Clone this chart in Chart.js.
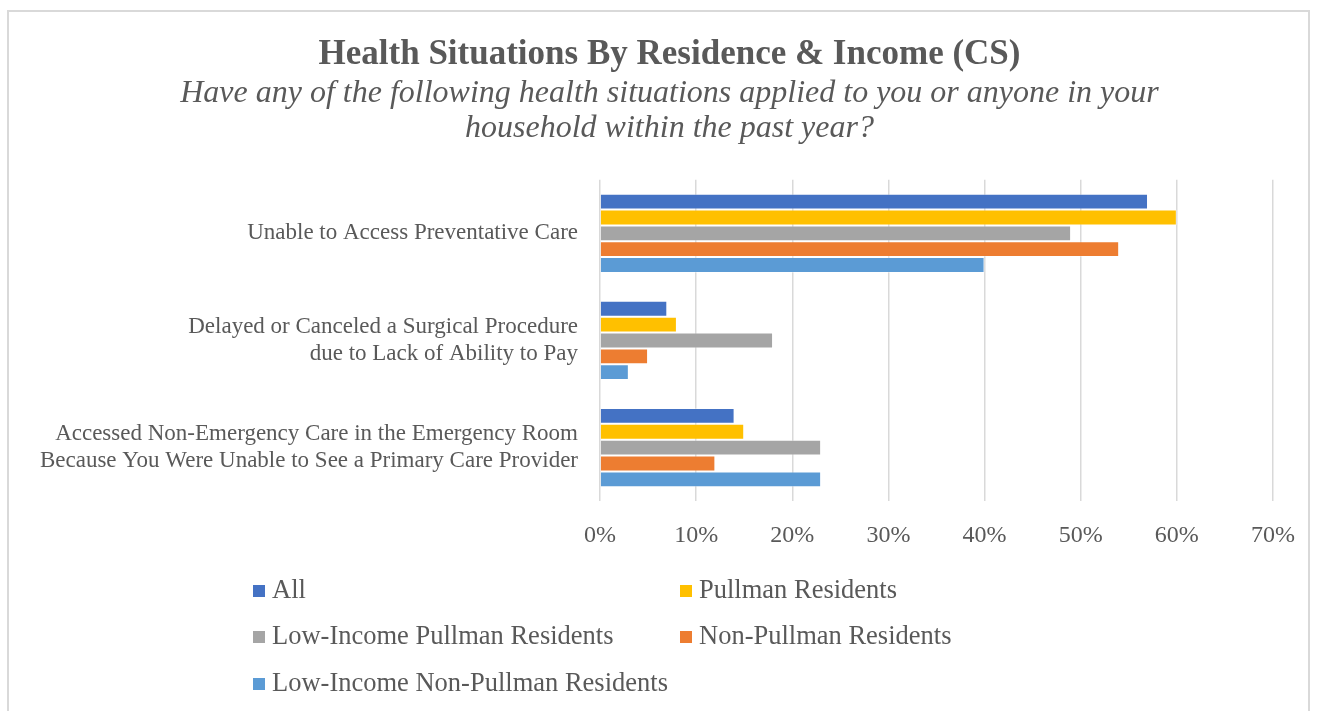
<!DOCTYPE html>
<html>
<head>
<meta charset="utf-8">
<script src="https://cdn.jsdelivr.net/npm/chart.js@4.4.1/dist/chart.umd.min.js"></script>
<style>
    html, body { margin: 0; padding: 0; background: #fff; overflow: hidden; }
    #wrap { position: relative; width: 1318px; height: 711px; }
    #frame { position: absolute; left: 7px; top: 10px; width: 1303px; height: 720px; border: 2px solid #d9d9d9; box-sizing: border-box; }
    #healthChart { position: absolute; left: 0; top: 0; }
    #legend { position: absolute; left: 0; top: 0; font-family: "Liberation Serif", serif; font-size: 26.5px; color: #595959; }
    .item { position: absolute; white-space: nowrap; line-height: 26px; }
    .item span.box { display: inline-block; width: 12px; height: 12px; margin-right: 7px; vertical-align: 1px; }
</style>
</head>
<body>
<div id="wrap">
    <div id="frame"></div>
    <canvas id="healthChart" width="1318" height="711"></canvas>
    <div id="legend"></div>
</div>
<script>
const categories = [
    ['Unable to Access Preventative Care'],
    ['Delayed or Canceled a Surgical Procedure', 'due to Lack of Ability to Pay'],
    ['Accessed Non-Emergency Care in the Emergency Room', 'Because You Were Unable to See a Primary Care Provider']
];
const seriesNames = ['All', 'Pullman Residents', 'Low-Income Pullman Residents', 'Non-Pullman Residents', 'Low-Income Non-Pullman Residents'];
const seriesColors = ['#4472C4', '#FFC000', '#A5A5A5', '#ED7D31', '#5B9BD5'];
const allValues = [57, 7, 14];
const pullmanValues = [60, 8, 15];
const lowIncomePullmanValues = [49, 18, 23];
const nonPullmanValues = [54, 5, 12];
const lowIncomeNonPullmanValues = [40, 3, 23];
const seriesValues = [allValues, pullmanValues, lowIncomePullmanValues, nonPullmanValues, lowIncomeNonPullmanValues];

const serif = '"Liberation Serif", serif';
const textColor = '#595959';

// title in the original sits a bit right of the canvas centre
const shiftTitles = {
    id: 'shiftTitles',
    afterLayout(chart) {
        chart.boxes.forEach(b => {
            if (b.position === 'top' && b.options && b.options.text !== undefined) {
                b.left += 22;
                b.right += 22;
            }
        });
    }
};

const healthCtx = document.getElementById('healthChart').getContext('2d');
const healthChart = new Chart(healthCtx, {
    type: 'bar',
    data: {
        labels: categories,
        datasets: seriesNames.map((name, i) => ({
            label: name,
            data: seriesValues[i],
            backgroundColor: seriesColors[i],
            borderColor: 'rgba(255,255,255,0.35)',
            borderWidth: 1,
            barPercentage: 1.0,
            categoryPercentage: 0.74
        }))
    },
    options: {
        indexAxis: 'y',
        responsive: false,
        animation: false,
        layout: {
            padding: { left: 22, right: 45, top: 0, bottom: 141 }
        },
        plugins: {
            legend: { display: false },
            tooltip: { enabled: false },
            title: {
                display: true,
                text: 'Health Situations By Residence & Income (CS)',
                color: textColor,
                font: { family: serif, size: 35, weight: 'bold', lineHeight: 1.2 },
                padding: { top: 34, bottom: 0 }
            },
            subtitle: {
                display: true,
                text: ['Have any of the following health situations applied to you or anyone in your', 'household within the past year?'],
                color: textColor,
                font: { family: serif, size: 32, style: 'italic', lineHeight: 1.09 },
                padding: { top: 0, bottom: 34 }
            }
        },
        scales: {
            x: {
                min: 0,
                max: 70,
                ticks: {
                    stepSize: 10,
                    padding: 20,
                    color: textColor,
                    font: { family: serif, size: 24 },
                    callback: v => v + '%'
                },
                grid: { color: '#d9d9d9', lineWidth: 1.5, drawTicks: false },
                border: { display: false }
            },
            y: {
                ticks: {
                    padding: 22,
                    color: textColor,
                    font: { family: serif, size: 23, lineHeight: 1.17 }
                },
                grid: { display: false, drawTicks: false },
                border: { display: false },
                afterFit: scale => { scale.width = 578; }
            }
        }
    },
    plugins: [shiftTitles]
});

// two-column legend like the original
const legendPos = [[253, 589], [680, 589], [253, 635], [680, 635], [253, 682]];
const legendEl = document.getElementById('legend');
healthChart.data.datasets.forEach((ds, i) => {
    const item = document.createElement('div');
    item.className = 'item';
    item.style.left = legendPos[i][0] + 'px';
    item.style.top = (legendPos[i][1] - 13) + 'px';
    item.innerHTML = '<span class="box" style="background:' + ds.backgroundColor + '"></span>' + ds.label;
    legendEl.appendChild(item);
});
</script>
</body>
</html>
